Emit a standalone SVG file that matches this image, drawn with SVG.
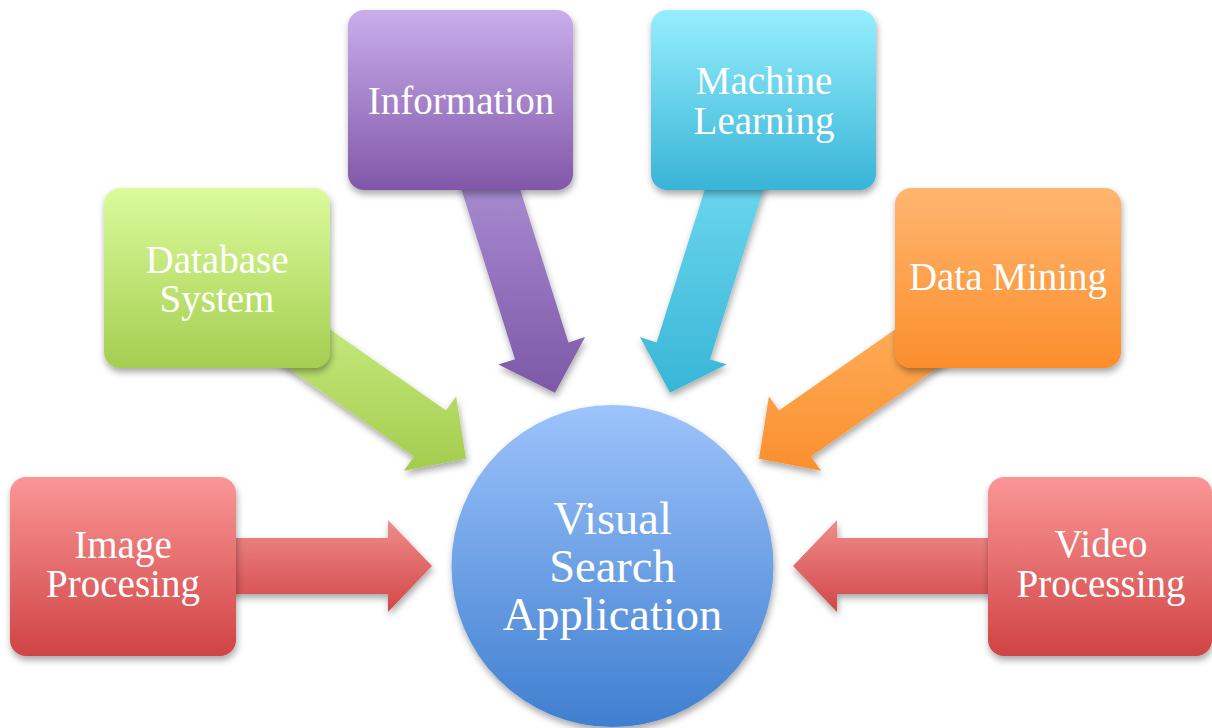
<svg xmlns="http://www.w3.org/2000/svg" width="1212" height="728" viewBox="0 0 1212 728">
  <defs>
    <linearGradient id="gRedBox" x1="0" y1="0" x2="0" y2="1">
      <stop offset="0" stop-color="#fb9696"/>
      <stop offset="1" stop-color="#d04343"/>
    </linearGradient>
    <linearGradient id="gRedArrow" x1="0" y1="0" x2="0" y2="1">
      <stop offset="0" stop-color="#f08c8c"/>
      <stop offset="1" stop-color="#d24747"/>
    </linearGradient>
    <linearGradient id="gGreenBox" x1="0" y1="0" x2="0" y2="1">
      <stop offset="0" stop-color="#dbfb9c"/>
      <stop offset="1" stop-color="#a5ce50"/>
    </linearGradient>
    <linearGradient id="gGreenArrow" x1="0" y1="0" x2="0" y2="1">
      <stop offset="0" stop-color="#c8eb80"/>
      <stop offset="1" stop-color="#a3cc4d"/>
    </linearGradient>
    <linearGradient id="gPurpleBox" x1="0" y1="0" x2="0" y2="1">
      <stop offset="0" stop-color="#c9aeec"/>
      <stop offset="1" stop-color="#8157a9"/>
    </linearGradient>
    <linearGradient id="gPurpleArrow" x1="0" y1="0" x2="0" y2="1">
      <stop offset="0" stop-color="#ae92d6"/>
      <stop offset="1" stop-color="#7c58a7"/>
    </linearGradient>
    <linearGradient id="gCyanBox" x1="0" y1="0" x2="0" y2="1">
      <stop offset="0" stop-color="#95eefd"/>
      <stop offset="1" stop-color="#39b4d7"/>
    </linearGradient>
    <linearGradient id="gCyanArrow" x1="0" y1="0" x2="0" y2="1">
      <stop offset="0" stop-color="#72daf0"/>
      <stop offset="1" stop-color="#38b6d7"/>
    </linearGradient>
    <linearGradient id="gOrangeBox" x1="0" y1="0" x2="0" y2="1">
      <stop offset="0" stop-color="#ffb670"/>
      <stop offset="1" stop-color="#fc8e2b"/>
    </linearGradient>
    <linearGradient id="gOrangeArrow" x1="0" y1="0" x2="0" y2="1">
      <stop offset="0" stop-color="#ffae5c"/>
      <stop offset="1" stop-color="#fb8f2e"/>
    </linearGradient>
    <linearGradient id="gBlue" x1="0" y1="0" x2="0" y2="1">
      <stop offset="0" stop-color="#9dc3fb"/>
      <stop offset="1" stop-color="#3f7fd0"/>
    </linearGradient>
    <filter id="shadow" x="-20%" y="-20%" width="140%" height="150%">
      <feDropShadow dx="1" dy="4" stdDeviation="3.5" flood-color="#000" flood-opacity="0.35"/>
    </filter>
  </defs>
  <style>
    .box { filter: url(#shadow); }
    .arrow { filter: url(#shadow); }
    .label { font-family: "Liberation Serif", "DejaVu Serif", serif; fill: #ffffff; text-anchor: middle; font-size: 39px; }
    .hub { font-family: "Liberation Serif", "DejaVu Serif", serif; fill: #ffffff; text-anchor: middle; font-size: 46.5px; }
  </style>

  <!-- connectors: block arrows pointing at the hub -->
  <g id="connectors">
    <polygon class="arrow" fill="url(#gRedArrow)" points="200,538 388,538 388,520 432,566 388,612 388,594 200,594"/>
    <polygon class="arrow" fill="url(#gRedArrow)" points="1025,538 837,538 837,520 793,566 837,612 837,594 1025,594"/>
    <polygon class="arrow" fill="url(#gGreenArrow)" points="306.8,313.2 446,410.6 456.1,396.2 466,458.7 403.9,470.8 414,456.4 274.8,359"/>
    <polygon class="arrow" fill="url(#gOrangeArrow)" points="918.2,313.2 779,410.6 768.9,396.2 759,458.7 821.1,470.8 811,456.4 950.2,359"/>
    <polygon class="arrow" fill="url(#gPurpleArrow)" points="508.2,151.6 568.4,342.4 585.1,337.1 555,392.8 498.3,364.5 515,359.2 454.8,168.4"/>
    <polygon class="arrow" fill="url(#gCyanArrow)" points="716.8,151.6 656.6,342.4 639.9,337.1 670,392.8 726.7,364.5 710,359.2 770.2,168.4"/>
  </g>

  <!-- hub -->
  <g id="visual-search-application">
    <circle class="box" cx="612.5" cy="566" r="161" fill="url(#gBlue)"/>
    <text class="hub" x="612.5" y="534">Visual</text>
    <text class="hub" x="612.5" y="582">Search</text>
    <text class="hub" x="612.5" y="630">Application</text>
  </g>

  <g id="image-processing">
    <rect class="box" x="10" y="477" width="226" height="179" rx="16" fill="url(#gRedBox)"/>
    <text class="label" x="123" y="558">Image</text>
    <text class="label" x="123" y="597">Procesing</text>
  </g>

  <g id="database-system">
    <rect class="box" x="104" y="188" width="226" height="180" rx="16" fill="url(#gGreenBox)"/>
    <text class="label" x="217" y="273">Database</text>
    <text class="label" x="217" y="312">System</text>
  </g>

  <g id="information">
    <rect class="box" x="348" y="10" width="225" height="180" rx="16" fill="url(#gPurpleBox)"/>
    <text class="label" x="461" y="114">Information</text>
  </g>

  <g id="machine-learning">
    <rect class="box" x="651" y="10" width="225" height="180" rx="16" fill="url(#gCyanBox)"/>
    <text class="label" x="764" y="94">Machine</text>
    <text class="label" x="764" y="134">Learning</text>
  </g>

  <g id="data-mining">
    <rect class="box" x="895" y="188" width="226" height="180" rx="16" fill="url(#gOrangeBox)"/>
    <text class="label" x="1008" y="290">Data Mining</text>
  </g>

  <g id="video-processing">
    <rect class="box" x="988" y="477" width="224" height="179" rx="16" fill="url(#gRedBox)"/>
    <text class="label" x="1101" y="557">Video</text>
    <text class="label" x="1101" y="597">Processing</text>
  </g>
</svg>
